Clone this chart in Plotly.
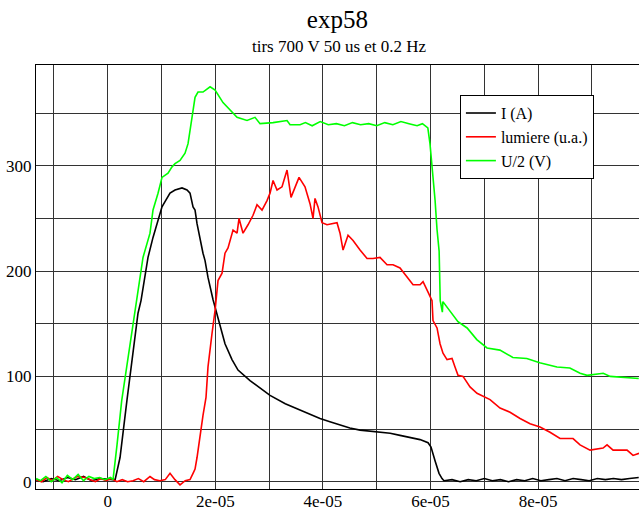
import plotly.graph_objects as go

# time in microseconds (axis labelled in seconds)
t_I = [-13.3, -12.0, -10.5, -9.0, -7.5, -6.0, -4.5, -3.0, -1.5, 0.0, 1.0, 1.38, 2.29, 3.59, 4.14, 5.07,
       5.63, 6.19, 7.49, 8.42, 9.35, 10.09, 10.65, 11.58, 12.51, 13.81, 14.74, 15.30, 15.86, 16.23,
       16.60, 17.16, 17.71, 18.09, 18.64, 19.57, 20.87, 21.80, 23.10, 24.22, 26.45, 28.3, 30.17, 33.0,
       35.75, 37.6, 39.46, 41.3, 43.18, 45.0, 46.90, 48.8, 50.61, 52.5, 54.33, 56.2, 58.05, 59.54,
       60.09, 60.84, 61.58, 62.14, 62.5, 64.0, 65.5, 67.0, 68.5, 70.0, 71.5, 73.0, 74.5, 76.0, 77.5,
       79.0, 80.5, 82.0, 83.5, 85.0, 86.5, 88.0, 89.5, 91.0, 92.5, 94.0, 95.5, 97.0, 98.7]
v_I = [2, 0, 3, 1, 4, 2, 5, 1, 3, 2, 2, 2, 23, 78, 100, 134,
       160, 172, 213, 232, 248, 261, 266, 274, 277, 279, 277, 274, 261, 258,
       245, 229, 217, 210, 194, 173, 147, 131, 116, 106, 96, 89, 82, 74,
       68, 64, 60, 57, 54, 51, 49, 48, 47, 46, 44, 42, 40, 37,
       33, 20, 8, 3, 1, 2, 0, 2, 1, 3, 1, 2, 0, 2, 1,
       3, 1, 2, 3, 1, 3, 2, 1, 3, 2, 3, 2, 3, 4]

t_L = [-13.3, -12.3, -11.3, -10.3, -9.3, -8.3, -7.3, -6.3, -5.7, -4.3, -3.3, -2.3, -1.3, -0.3, 0.7,
       1.7, 2.7, 3.7, 4.7, 5.7, 6.7, 7.86, 8.7, 9.7, 10.7, 11.58, 12.5, 13.44, 14.4, 15.3, 15.86,
       16.23, 16.60, 17.16, 17.71, 18.27, 18.64, 19.39, 19.96, 20.5, 21.25, 21.80, 22.36, 23.29,
       24.04, 24.41, 25.15, 26.08, 27.01, 27.75, 28.68, 29.61, 30.17, 30.73, 31.47, 32.40, 33.33,
       34.07, 34.81, 35.56, 36.67, 37.60, 38.16, 38.53, 39.09, 39.83, 40.76, 41.69, 42.62, 43.18,
       43.74, 44.67, 45.60, 46.90, 48.20, 49.31, 50.61, 51.92, 53.03, 54.33, 55.63, 56.75, 58.05,
       58.61, 59.54, 60.28, 60.46, 61.21, 61.77, 62.32, 63.07, 64.0, 64.55, 65.11, 66.04, 66.78,
       67.34, 68.64, 71.06, 72.92, 74.78, 76.64, 78.5, 80.35, 82.21, 84.07, 86.49, 87.79, 89.65,
       92.07, 92.81, 93.93, 96.53, 97.64, 98.76]
v_L = [2, 0, 4, 1, 5, 2, 0, 3, 5, 4, 2, 0, 3, 1, 3,
       0, 2, 0, 1, 3, 0, 5, 2, 1, 2, 8, 2, -3, 1, 2, 8,
       12, 23, 46, 63, 80, 109, 141, 163, 191, 198, 217, 222, 239,
       236, 250, 236, 244, 253, 263, 258, 267, 274, 286, 277, 280, 296,
       270, 279, 289, 280, 264, 250, 269, 261, 246, 244, 245, 246, 236,
       220, 234, 229, 220, 212, 212, 213, 206, 206, 203, 194, 187, 187,
       190, 180, 172, 153, 146, 131, 122, 116, 117, 109, 101, 100, 94,
       90, 84, 78, 70, 66, 60, 55, 52, 47, 41, 41, 35, 30,
       32, 35, 30, 30, 25, 27]

t_U = [-13.3, -12.5, -11.5, -10.5, -9.5, -8.5, -7.5, -6.5, -5.5, -4.5, -3.5, -2.5, -1.5, -0.5, 0.5,
       0.99, 1.73, 2.6, 3.53, 4.46, 5.39, 6.56, 7.86, 8.42, 9.35, 10.09, 11.21, 11.95, 12.51,
       13.44, 14.37, 14.93, 15.67, 16.23, 16.78, 17.71, 19.03, 19.96, 21.43, 22.74, 24.04, 25.89,
       27.38, 28.31, 30.73, 33.33, 33.89, 35.75, 36.75, 38.0, 39.5, 41.0, 42.5, 44.0, 45.5, 47.0,
       48.5, 50.0, 51.5, 53.0, 54.5, 56.0, 57.5, 58.5, 59.5, 59.9, 60.3, 60.85, 61.2, 61.6, 61.8,
       62.2, 62.3, 63.7, 65.1, 66.8, 68.6, 70.5, 72.9, 75.3, 77.9, 80.3, 83.5, 85.9, 87.8, 89.1,
       92.1, 93.4, 96.5, 98.7]
v_U = [3, 1, 5, 0, 4, -1, 6, 2, 7, 1, 5, 3, 4, 2, 4,
       2, 35, 77, 109, 141, 172, 213, 236, 258, 274, 289, 293, 299, 302,
       305, 312, 321, 346, 365, 370, 370, 375, 372, 360, 353, 346, 343,
       346, 340, 341, 343, 339, 339, 341, 338, 342, 339, 340, 338, 341, 339,
       340, 338, 341, 339, 342, 340, 338, 340, 336, 321, 299, 267, 240, 219, 172,
       161, 171, 161, 152, 146, 135, 127, 125, 118, 117, 113, 109, 108, 103, 101,
       103, 100, 99, 98]

x_tickvals = [0, 20, 40, 60, 80]
x_ticktext = ["0", "2e-05", "4e-05", "6e-05", "8e-05"]
y_tickvals = [0, 100, 200, 300]

FONT = "Liberation Serif"

fig = go.Figure()
fig.add_trace(go.Scatter(x=t_I, y=v_I, mode="lines", name="I (A)",
                         line=dict(color="#000000", width=1.6)))
fig.add_trace(go.Scatter(x=t_L, y=v_L, mode="lines", name="lumiere (u.a.)",
                         line=dict(color="#ff0000", width=1.6)))
fig.add_trace(go.Scatter(x=t_U, y=v_U, mode="lines", name="U/2 (V)",
                         line=dict(color="#00ff00", width=1.6)))

fig.update_layout(
    width=639, height=510,
    margin=dict(l=36, r=0, t=65, b=21, autoexpand=False),
    paper_bgcolor="white", plot_bgcolor="white",
    font=dict(family=FONT, size=17, color="#000000"),
    title=dict(text="exp58", x=0.528, xanchor="center", y=1 - 19 / 510, yanchor="middle",
               yref="container", font=dict(family=FONT, size=25, color="#000000")),
    annotations=[dict(text="tirs 700 V 50 us et 0.2 Hz", xref="paper", yref="paper",
                      x=0.503, y=(489 - 46) / 424, xanchor="center", yanchor="middle",
                      showarrow=False, font=dict(family=FONT, size=17, color="#000000"))],
    legend=dict(x=0.703, y=0.929, xanchor="left", yanchor="top", bgcolor="white",
                bordercolor="#000000", borderwidth=1, font=dict(family=FONT, size=16),
                tracegroupgap=0),
    showlegend=True,
)
fig.update_xaxes(range=[-13.33, 98.75], tickvals=x_tickvals, ticktext=x_ticktext,
                 automargin=False, ticklabelstandoff=-3,
                 showgrid=True, gridcolor="#333333", gridwidth=1,
                 minor=dict(dtick=10, tick0=0, showgrid=True, gridcolor="#333333", gridwidth=1),
                 zeroline=False, showline=True, linecolor="#000000", linewidth=1, mirror=True,
                 ticks="", tickfont=dict(family=FONT, size=17))
fig.update_yaxes(range=[-6.9, 395.7], tickvals=y_tickvals, automargin=False,
                 showgrid=True, gridcolor="#333333", gridwidth=1,
                 minor=dict(dtick=50, tick0=0, showgrid=True, gridcolor="#333333", gridwidth=1),
                 zeroline=False, showline=True, linecolor="#000000", linewidth=1, mirror=False,
                 ticks="", tickfont=dict(family=FONT, size=17))

fig.write_html("out.html", config={"displayModeBar": False},
               post_script="document.body.style.margin='0';")
